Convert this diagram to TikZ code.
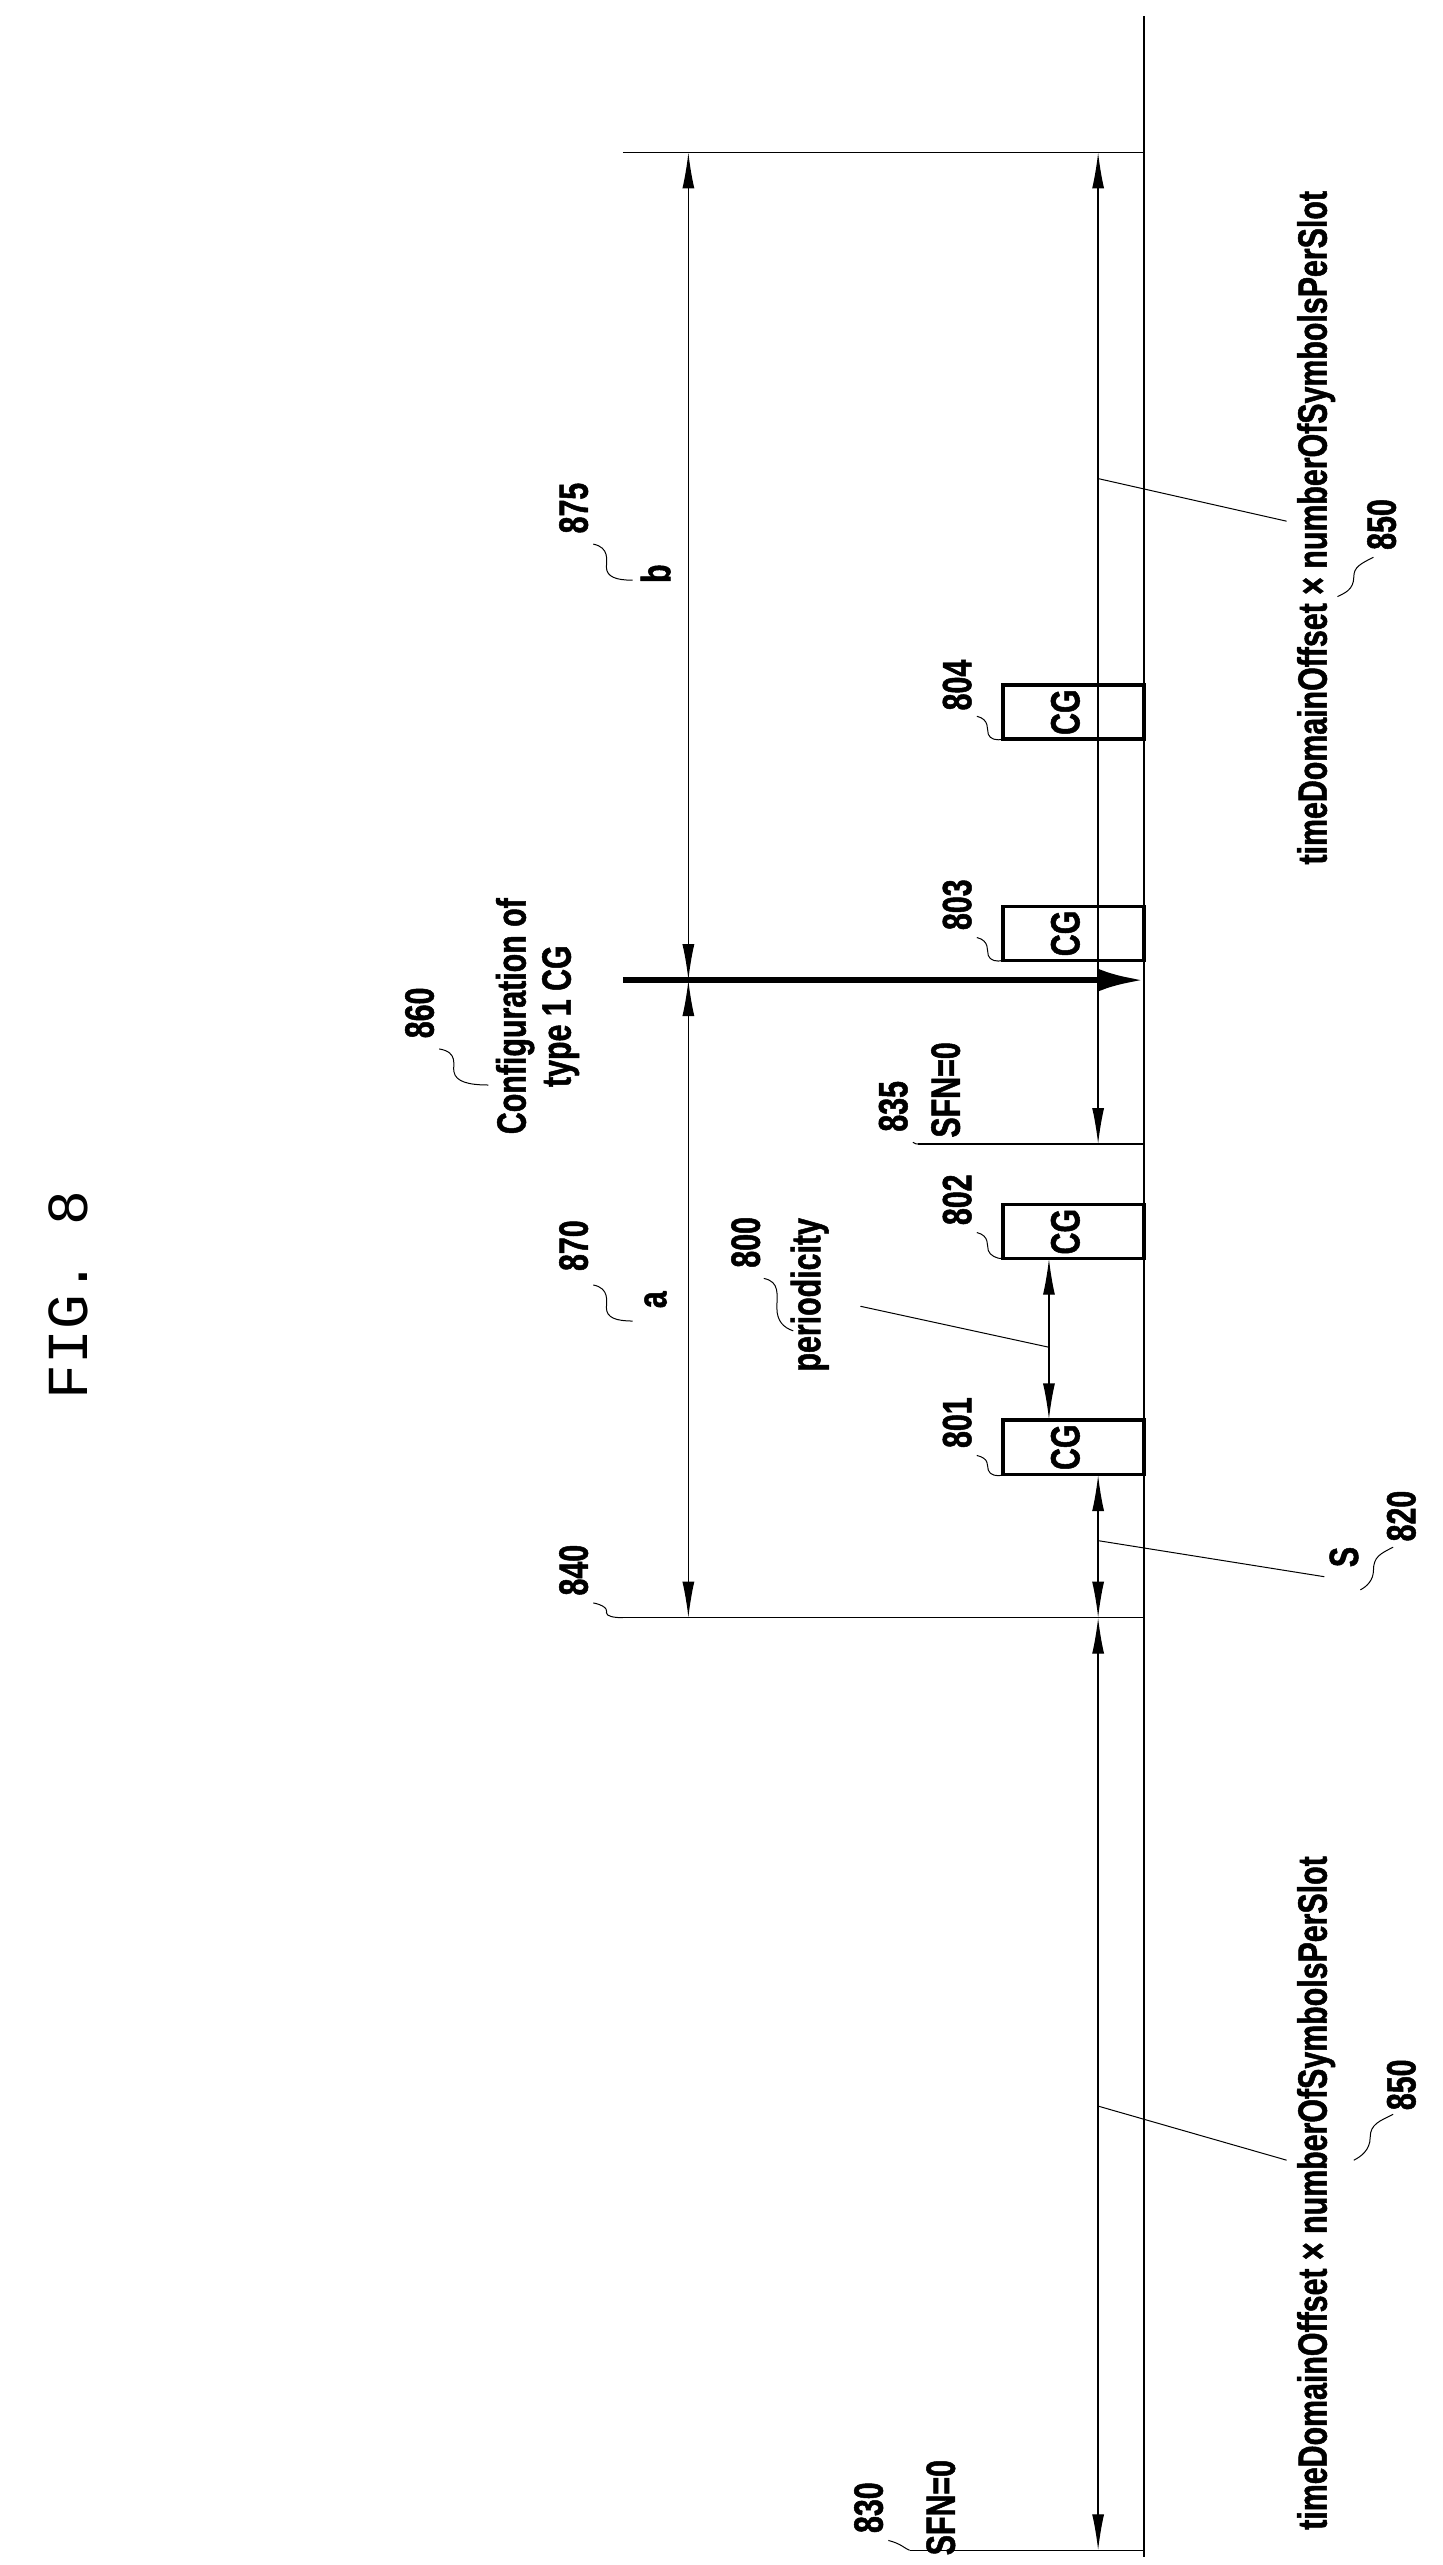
\documentclass[tikz,border=0pt]{standalone}
\usepackage{fontspec}
\setsansfont[FakeStretch=0.74,FakeBold=1.2]{Liberation Sans}
\setmonofont{Liberation Mono}
\usetikzlibrary{arrows.meta}
\begin{document}
\begin{tikzpicture}[x=1.639pt,y=-1.639pt,
  lbl/.style={rotate=90,inner sep=0pt,font=\sffamily\bfseries\fontsize{41}{45}\selectfont},
  num/.style={lbl},
  dim/.style={line width=1.3pt,{Latex[length=36pt,width=12pt]}-{Latex[length=36pt,width=12pt]}},
  ln/.style={line width=1.3pt},
  lead/.style={line width=1pt},
  cg/.style={draw,line width=3.5pt,minimum width=86*1.639pt,minimum height=33*1.639pt,inner sep=0pt}]
\useasboundingbox (0,0) rectangle (880,1565);
% axis and reference lines
\coordinate (axT) at (698,10); \coordinate (axB) at (698,1560);
\draw[ln] (axT) -- (axB);
\coordinate (t1) at (380,93); \coordinate (t2) at (698,93);
\draw[ln] (t1) -- (t2);
\coordinate (m1) at (380,987); \coordinate (m2) at (698,987);
\draw[ln] (m1) -- (m2);
\coordinate (s1) at (560,698); \coordinate (s2) at (698,698);
\draw[ln] (s1) -- (s2);
\coordinate (z1) at (555,1556); \coordinate (z2) at (698,1556);
\draw[ln] (z1) -- (z2);
% CG boxes
\node[cg] (cg4) at (655,434.5) {}; \node[lbl] at (650,434.5) {CG};
\node[cg] (cg3) at (655,569.5) {}; \node[lbl] at (650,569.5) {CG};
\node[cg] (cg2) at (655,751.5) {}; \node[lbl] at (650,751.5) {CG};
\node[cg] (cg1) at (655,883) {}; \node[lbl] at (650,883) {CG};
% big arrow
\coordinate (bA) at (380,598); \coordinate (bB) at (698,598);
\draw[line width=6pt,-{Latex[length=45pt,width=22pt]}] (bA) -- (bB);
% dimension arrows
\coordinate (bt) at (420,93); \coordinate (bm) at (420,598); \coordinate (bb) at (420,987);
\draw[dim] (bt) -- (bm);
\draw[dim] (bm) -- (bb);
\coordinate (ut) at (670,93); \coordinate (ub) at (670,698);
\draw[dim] (ut) -- (ub);
\coordinate (lt) at (670,987); \coordinate (lb) at (670,1556);
\draw[dim] (lt) -- (lb);
\coordinate (st) at (670,900);
\draw[dim] (lt) -- (st);
\coordinate (pt) at (640,768); \coordinate (pb) at (640,866);
\draw[dim] (pt) -- (pb);
% text labels
\node[font=\ttfamily\fontsize{58}{58}\selectfont,rotate=90,inner sep=0pt] (fig) at (42,790) {FIG. 8};
\node[lbl] (tdoU) at (803,322) {timeDomainOffset × numberOfSymbolsPerSlot};
\node[lbl] (tdoL) at (803,1338) {timeDomainOffset × numberOfSymbolsPerSlot};
\node[num] (n850u) at (843,320) {850};
\node[num] (n850l) at (855,1272) {850};
\node[num] (n875) at (350,310) {875};
\node[lbl] (lb) at (400,350) {b};
\node[num] (n870) at (350,760) {870};
\node[lbl] (la) at (400,793) {a};
\node[num] (n860) at (256,618) {860};
\node[lbl,align=center] (conf) at (328,620) {Configuration of\\type 1 CG};
\node[num] (n840) at (350,958) {840};
\node[num] (n800) at (455,758) {800};
\node[lbl] (per) at (494,790) {periodicity};
\node[num] (n801) at (584,868) {801};
\node[num] (n802) at (584,732) {802};
\node[num] (n803) at (584,552) {803};
\node[num] (n804) at (584,418) {804};
\node[num] (n835) at (545,675) {835};
\node[lbl] (sfn1) at (577,665) {SFN=0};
\node[num] (n830) at (530,1530) {830};
\node[lbl] (sfn0) at (574,1530) {SFN=0};
\node[lbl] (S) at (820,950) {S};
\node[num] (n820) at (855,925) {820};
% straight leaders
\coordinate (lu) at (670,292); \draw[lead] (lu) -- (785,318);
\coordinate (ll) at (670,1285); \draw[lead] (ll) -- (785,1318);
\coordinate (ls) at (670,940); \draw[lead] (ls) -- (808,962);
\coordinate (lp) at (640,822); \draw[lead] (lp) -- (525,797);
% squiggle leaders
\draw[lead] (362,332) .. controls (372,334) and (370,342) .. (370,346) .. controls (370,352) and (376,354) .. (386,354);
\draw[lead] (362,784) .. controls (372,786) and (370,794) .. (370,798) .. controls (370,804) and (376,806) .. (386,806);
\draw[lead] (362,978) .. controls (372,980) and (370,984) .. (370,984) .. controls (370,986) and (374,987) .. (m1);
\draw[lead] (268,640) .. controls (280,642) and (276,650) .. (277,654) .. controls (278,660) and (286,662) .. (298,662);
\draw[lead] (466,780) .. controls (476,782) and (474,790) .. (474,798) .. controls (474,806) and (478,810) .. (484,812);
\draw[lead] (596,888) .. controls (604,890) and (602,894) .. (603,897) .. controls (604,900) and (608,901) .. (612,900);
\draw[lead] (596,752) .. controls (604,754) and (602,760) .. (603,763) .. controls (604,766) and (608,768) .. (612,768);
\draw[lead] (596,572) .. controls (604,574) and (602,580) .. (603,583) .. controls (604,586) and (608,587) .. (612,586);
\draw[lead] (596,437) .. controls (604,439) and (602,445) .. (603,448) .. controls (604,451) and (608,452) .. (612,451);
\draw[lead] (557,697) .. controls (559,698) and (559,698) .. (s1);
\draw[lead] (542,1550) .. controls (550,1552) and (552,1555) .. (z1);
\draw[lead] (850,1290) .. controls (842,1294) and (836,1296) .. (836,1304) .. controls (836,1312) and (830,1316) .. (826,1318);
\draw[lead] (838,340) .. controls (830,344) and (826,346) .. (826,352) .. controls (826,360) and (820,362) .. (816,364);
\draw[lead] (850,944) .. controls (842,948) and (838,950) .. (838,958) .. controls (838,964) and (834,968) .. (830,970);
\end{tikzpicture}
\end{document}
